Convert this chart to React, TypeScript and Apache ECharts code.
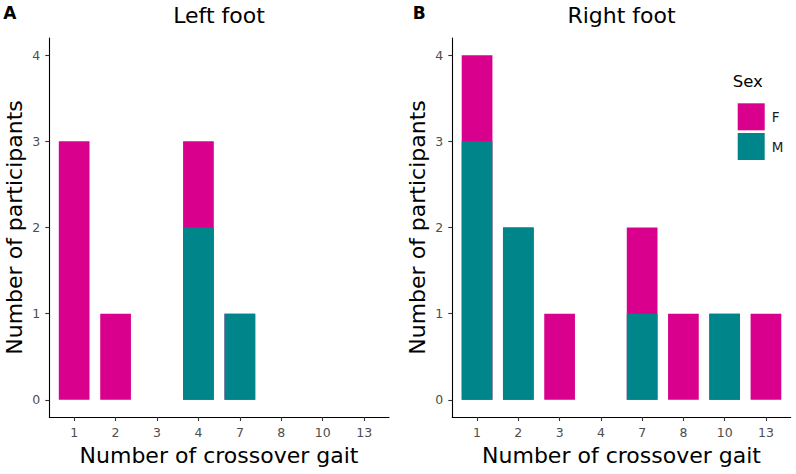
import React, { useEffect, useRef } from "react";
import * as echarts from "echarts";

const categories = ["1", "2", "3", "4", "7", "8", "10", "13"];
const leftFemale = [3, 1, 0, 1, 0, 0, 0, 0];
const leftMale = [0, 0, 0, 2, 1, 0, 0, 0];
const rightFemale = [1, 0, 1, 0, 1, 1, 0, 1];
const rightMale = [3, 2, 0, 0, 1, 0, 1, 0];
const yTicks = [0, 1, 2, 3, 4];

const PINK = "#D9008D";
const TEAL = "#00868A";
const FONT = "DejaVu Sans";

export default function App() {
  const ref = useRef<HTMLDivElement>(null);
  useEffect(() => {
    document.body.style.margin = "0";
    const chart = echarts.init(ref.current!, null, { renderer: "svg" });
    const catIdx = categories.map((_, i) => i);
    const xAxis = (gridIndex: number) => ({
      type: "value",
      gridIndex,
      min: -0.6,
      max: 7.6,
      axisLine: { show: true, onZero: false, lineStyle: { color: "#000", width: 1.1 } },
      axisTick: { show: true, customValues: catIdx, length: 4, lineStyle: { color: "#333", width: 1.1 } },
      axisLabel: {
        customValues: catIdx,
        formatter: (v: number) => categories[Math.round(v)],
        color: "#4d4d4d",
        fontSize: 12.5,
        fontFamily: FONT,
        margin: 9,
      },
      splitLine: { show: false },
    });
    const yAxis = (gridIndex: number) => ({
      type: "value",
      gridIndex,
      min: -0.2,
      max: 4.2,
      axisLine: { show: true, onZero: false, lineStyle: { color: "#000", width: 1.1 } },
      axisTick: { show: true, customValues: yTicks, length: 4, lineStyle: { color: "#333", width: 1.1 } },
      axisLabel: {
        customValues: yTicks,
        color: "#4d4d4d",
        fontSize: 12.5,
        fontFamily: FONT,
        margin: 9,
      },
      splitLine: { show: false },
    });
    const bars = (gi: number, fem: number[], male: number[]) => [
      {
        type: "bar",
        name: "F",
        xAxisIndex: gi,
        yAxisIndex: gi,
        barWidth: 30.7,
        barGap: "-100%",
        itemStyle: { color: PINK },
        data: fem.map((v, i) => [i, v + male[i]]),
      },
      {
        type: "bar",
        name: "M",
        xAxisIndex: gi,
        yAxisIndex: gi,
        barWidth: 30.7,
        barGap: "-100%",
        itemStyle: { color: TEAL },
        data: male.map((v, i) => [i, v]),
      },
    ];
    const txt = (text: string, x: number, y: number, size: number, extra: any = {}) => ({
      type: "text",
      x,
      y,
      rotation: extra.rotation || 0,
      style: {
        text,
        fill: extra.fill || "#000",
        font: `${extra.bold ? "bold " : ""}${size}px "${FONT}"`,
        textAlign: extra.align || "center",
        textVerticalAlign: "middle",
      },
    });
    chart.setOption({
      animation: false,
      grid: [
        { left: 49.3, right: 407, top: 38, bottom: 57 },
        { left: 452.3, right: 5.3, top: 38, bottom: 57 },
      ],
      xAxis: [xAxis(0), xAxis(1)],
      yAxis: [yAxis(0), yAxis(1)],
      series: [...bars(0, leftFemale, leftMale), ...bars(1, rightFemale, rightMale)],
      legend: {
        data: ["F", "M"],
        orient: "vertical",
        left: 732.7,
        top: 98.3,
        itemWidth: 27,
        itemHeight: 27,
        itemGap: 2.7,
        icon: "rect",
        selectedMode: false,
        textStyle: { fontFamily: FONT, fontSize: 13.5, color: "#1a1a1a", padding: [0, 0, 0, 2] },
      },
      graphic: [
        txt("A", 3.3, 13, 17, { bold: true, align: "left" }),
        txt("B", 412.7, 13, 17, { bold: true, align: "left" }),
        txt("Left foot", 219, 15, 22),
        txt("Right foot", 621.5, 15, 22),
        txt("Number of crossover gait", 219, 455, 22),
        txt("Number of crossover gait", 621.5, 455, 22),
        txt("Number of participants", 14, 227.5, 22, { rotation: Math.PI / 2 }),
        txt("Number of participants", 417, 227.5, 22, { rotation: Math.PI / 2 }),
        txt("Sex", 732.7, 81, 16.5, { align: "left" }),
      ],
    });
    return () => chart.dispose();
  }, []);
  return <div ref={ref} style={{ width: 796, height: 474 }} />;
}
